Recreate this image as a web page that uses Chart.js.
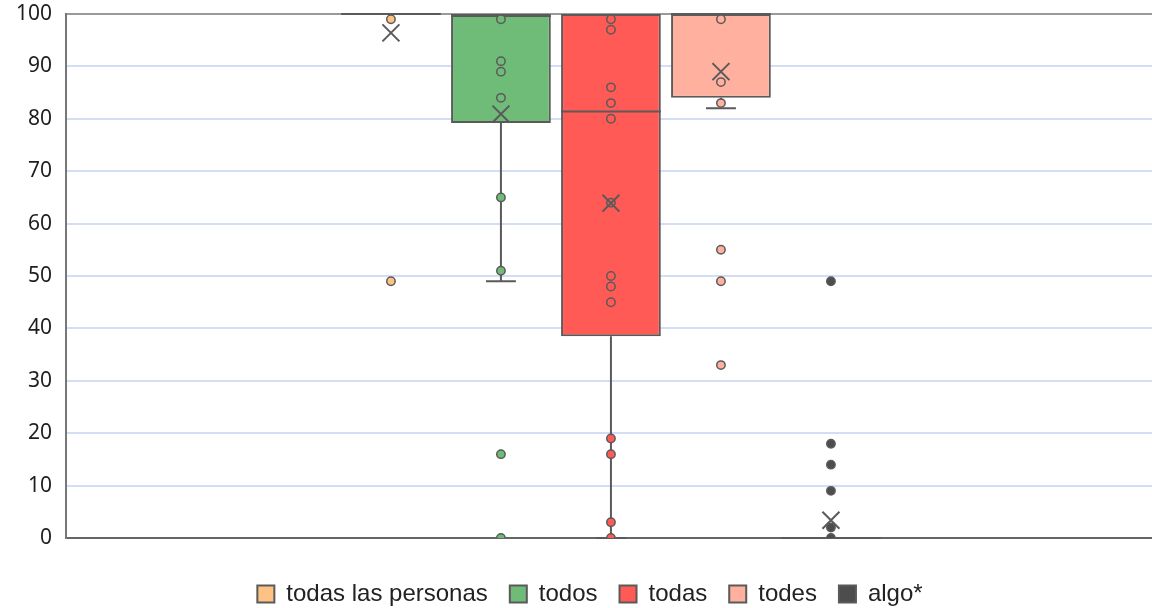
<!DOCTYPE html>
<html>
<head>
<meta charset="utf-8">
<title>Box plot</title>
<script src="https://cdn.jsdelivr.net/npm/chart.js@4"></script>
<style>
  html, body { margin: 0; padding: 0; background: #ffffff; overflow: hidden; }
  #chartBox { width: 1180px; height: 608px; }
</style>
</head>
<body>
<div id="chartBox"><canvas id="myChart"></canvas></div>
<script>
//* DATA //
let groups = ['todas las personas', 'todos', 'todas', 'todes', 'algo*'];
let q1Values = [100, 79.2, 38.5, 84, 0];
let medianValues = [100, 99.6, 81.4, 100, 0];
let q3Values = [100, 100, 100, 100, 0];
let whiskerLow = [100, 49, 0, 82, 0];
let whiskerHigh = [100, 100, 100, 100, 0];
let meanValues = [96.4, 80.9, 63.9, 89, 3.4];

let pointsTodasLasPersonas = [99, 49];
let pointsTodos = [99, 91, 89, 84, 65, 51, 16, 0];
let pointsTodas = [99, 97, 86, 83, 80, 64, 50, 48, 45, 19, 16, 3, 0];
let pointsTodes = [99, 87, 83, 55, 49, 33];
let pointsAlgo = [49, 18, 14, 9, 2, 0];
let allPoints = [pointsTodasLasPersonas, pointsTodos, pointsTodas, pointsTodes, pointsAlgo];

let yTicks = [0, 10, 20, 30, 40, 50, 60, 70, 80, 90, 100];

//* STYLE //
let fillColors = ['#ffc285', '#6fbb78', '#ff5a55', '#ffb09e', '#4d4d4d'];
let edgeColor = '#5a5a5a';
let gridColor = '#d3ddf5';

//*CANVAS ELEMENT FOR CHART*//
let ctx = document.getElementById('myChart');

//* BUILD DATASETS //
let datasets = [];

for (let i = 0; i < groups.length; i++) {
  datasets.push({
    type: 'bar',
    label: groups[i],
    data: [{ x: i + 1, y: [q1Values[i], q3Values[i]] }],
    backgroundColor: fillColors[i],
    borderColor: edgeColor,
    borderWidth: 2,
    borderSkipped: false,
    grouped: false,
    barPercentage: 1,
    categoryPercentage: 0.907,
    order: 2,
    boxIndex: i
  });
}

for (let i = 0; i < groups.length; i++) {
  let pts = [];
  for (let j = 0; j < allPoints[i].length; j++) {
    pts.push({ x: i + 1, y: allPoints[i][j] });
  }
  datasets.push({
    type: 'scatter',
    label: groups[i] + ' puntos',
    data: pts,
    backgroundColor: fillColors[i],
    borderColor: edgeColor,
    borderWidth: 1.5,
    pointRadius: 4.2,
    clip: 0,
    order: 1
  });
}

let meanPts = [];
for (let i = 0; i < groups.length; i++) {
  meanPts.push({ x: i + 1, y: meanValues[i] });
}
datasets.push({
  type: 'scatter',
  label: 'media',
  data: meanPts,
  pointStyle: 'crossRot',
  pointRadius: 12,
  borderColor: edgeColor,
  backgroundColor: edgeColor,
  borderWidth: 2,
  order: 0
});

//* PLUGIN: median lines and whiskers, drawn with the chart's scales //
let boxLinesPlugin = {
  id: 'boxLines',
  afterDatasetDraw(chart, args) {
    let ds = chart.data.datasets[args.index];
    if (ds.type !== 'bar') return;
    let i = ds.boxIndex;
    let bar = args.meta.data[0];
    let yScale = chart.scales.y;
    let c = chart.ctx;
    let half = bar.width / 2;
    let capHalf = bar.width * 0.15;

    c.save();
    c.strokeStyle = edgeColor;
    c.lineWidth = 2;
    c.beginPath();
    // lower whisker
    if (whiskerLow[i] < q1Values[i]) {
      c.moveTo(bar.x, yScale.getPixelForValue(q1Values[i]));
      c.lineTo(bar.x, yScale.getPixelForValue(whiskerLow[i]));
      c.moveTo(bar.x - capHalf, yScale.getPixelForValue(whiskerLow[i]));
      c.lineTo(bar.x + capHalf, yScale.getPixelForValue(whiskerLow[i]));
    }
    // upper whisker
    if (whiskerHigh[i] > q3Values[i]) {
      c.moveTo(bar.x, yScale.getPixelForValue(q3Values[i]));
      c.lineTo(bar.x, yScale.getPixelForValue(whiskerHigh[i]));
      c.moveTo(bar.x - capHalf, yScale.getPixelForValue(whiskerHigh[i]));
      c.lineTo(bar.x + capHalf, yScale.getPixelForValue(whiskerHigh[i]));
    }
    // median
    let my = yScale.getPixelForValue(medianValues[i]);
    c.moveTo(bar.x - half, my);
    c.lineTo(bar.x + half, my);
    c.stroke();
    c.restore();
  }
};

function noScalePadding(scale) {
  scale.paddingTop = 0;
  scale.paddingBottom = 0;
  scale.paddingLeft = 0;
  scale.paddingRight = 0;
}

//* CHART //
let chartObj = {
  data: { datasets: datasets },
  options: {
    responsive: true,
    maintainAspectRatio: false,
    animation: false,
    layout: { padding: { top: 13, left: 0, right: 0, bottom: -8 } },
    plugins: {
      tooltip: { enabled: false },
      legend: {
        position: 'bottom',
        labels: {
          filter: (item) => item.datasetIndex < groups.length,
          boxWidth: 17,
          boxHeight: 17,
          padding: 22,
          color: '#222222',
          font: { family: "'Liberation Sans', Arial, sans-serif", size: 24 }
        }
      }
    },
    scales: {
      x: {
        type: 'linear',
        position: 'bottom',
        offset: false,
        min: -1.954,
        max: 8.046,
        ticks: { display: false },
        grid: { display: false },
        border: { display: true, color: '#666666', width: 2 },
        afterFit: (scale) => { scale.height = 22; noScalePadding(scale); }
      },
      y: {
        min: 0,
        max: 100,
        afterBuildTicks: (scale) => { scale.ticks = yTicks.map(v => ({ value: v })); },
        ticks: {
          padding: 14,
          color: '#1e1e1e',
          font: { family: "'Noto Sans', sans-serif", size: 21 }
        },
        grid: {
          color: (c) => (c.tick && c.tick.value === 100 ? '#9a9a9a' : gridColor),
          lineWidth: 2,
          drawTicks: false
        },
        border: { display: true, color: '#777777', width: 2 },
        afterFit: (scale) => { scale.width = 66; noScalePadding(scale); }
      }
    }
  },
  plugins: [boxLinesPlugin]
};

new Chart(ctx, chartObj);
</script>
</body>
</html>
